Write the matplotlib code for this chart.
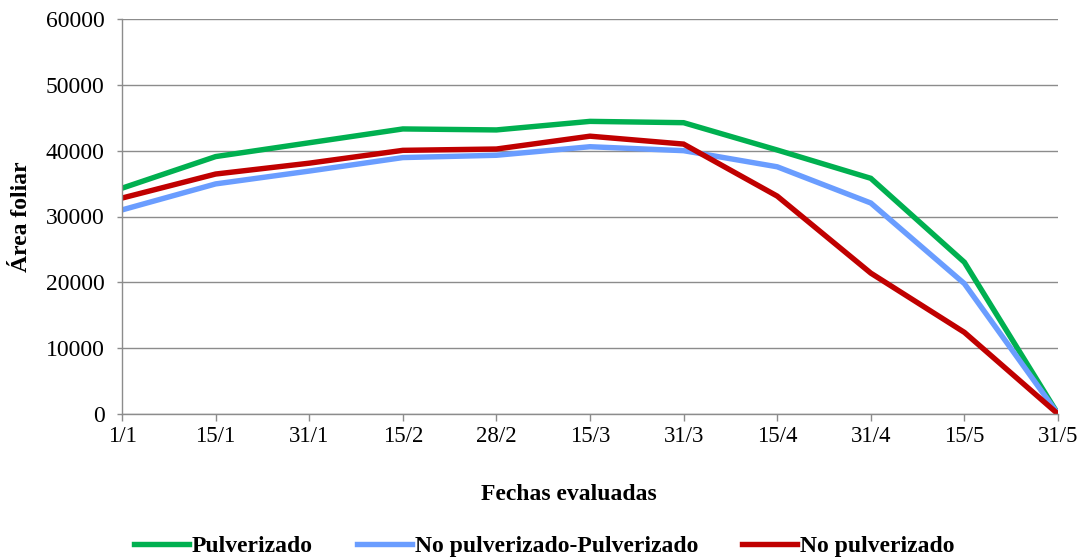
import matplotlib
matplotlib.use("Agg")
import matplotlib.pyplot as plt

fechas = ["1/1", "15/1", "31/1", "15/2", "28/2", "15/3", "31/3", "15/4", "31/4", "15/5", "31/5"]
pulverizado = [34300, 39100, 41200, 43300, 43150, 44450, 44250, 40100, 35800, 23050, 0]
no_pulv_pulv = [31000, 34950, 36900, 38950, 39300, 40600, 40000, 37550, 32050, 19800, 0]
no_pulverizado = [32800, 36450, 38100, 40050, 40250, 42200, 41000, 33100, 21400, 12400, 0]

series_names = ["Pulverizado", "No pulverizado-Pulverizado", "No pulverizado"]
colors = ["#00B050", "#6A9DFF", "#C00000"]

plt.rcParams['font.family'] = ['Liberation Serif', 'DejaVu Serif']

fig = plt.figure(figsize=(10.9, 5.6), dpi=100)
ax = fig.add_axes([122/1090, 1-414/560, (1058-122)/1090, (414-19)/560])

x = list(range(len(fechas)))
for vals, name, c in zip([pulverizado, no_pulv_pulv, no_pulverizado], series_names, colors):
    ax.plot(x, vals, color=c, lw=3.9, label=name, solid_joinstyle='miter')

ax.set_xlim(0, len(fechas)-1)
ax.set_ylim(0, 60000)
ax.set_yticks(range(0, 60001, 10000))
ax.set_xticks(x)
ax.set_xticklabels(fechas)
ax.yaxis.grid(True, color="#8C8C8C", lw=1)
ax.set_axisbelow(True)
for s in ["top", "right"]:
    ax.spines[s].set_visible(False)
for s in ["left", "bottom"]:
    ax.spines[s].set_color("#8C8C8C")
    ax.spines[s].set_linewidth(1)
ax.tick_params(axis='both', colors="#8C8C8C", labelcolor="black", width=1, direction='out')
ax.tick_params(axis='x', labelsize=16.5, length=5, pad=4)
ax.tick_params(axis='y', labelsize=17, length=3.6, pad=9)

ax.set_ylabel("Área foliar", fontsize=17, fontweight='bold', labelpad=10)
fig.text(569 / 1090, 1 - 494/560, "Fechas evaluadas", fontsize=17, fontweight='bold',
         ha='center', va='center')

handles, labels = ax.get_legend_handles_labels()
leg = fig.legend(handles, labels, loc='center', bbox_to_anchor=(544/1090, 1 - 546/560), ncol=3,
                 frameon=False, prop={'size': 17, 'weight': 'bold'}, handlelength=2.33,
                 handletextpad=0.13, columnspacing=1.86)

fig.savefig("out.png", dpi=100)
